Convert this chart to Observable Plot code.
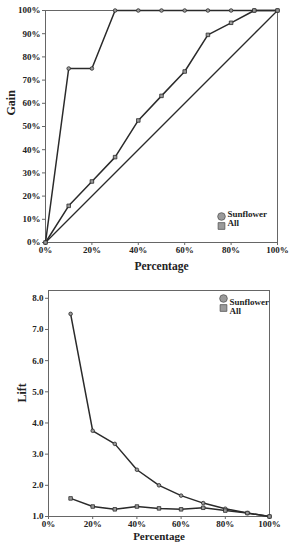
<!DOCTYPE html>
<html><head><meta charset="utf-8">
<script src="https://cdn.jsdelivr.net/npm/d3@7"></script>
<script src="https://cdn.jsdelivr.net/npm/@observablehq/plot@0.6"></script>
<style>
body{margin:0;background:#fff;width:293px;height:550px;overflow:hidden}
svg{display:block}
</style></head><body><div id="c"></div>
<script>
const gainPct = [0,10,20,30,40,50,60,70,80,90,100];
const gainSunflower = [0,75,75,100,100,100,100,100,100,100,100];
const gainAll = [0,15.8,26.3,36.8,52.6,63.2,73.7,89.5,94.7,100,100];
const diagPct = [0,100];
const diagGain = [0,100];
const liftPct = [10,20,30,40,50,60,70,80,90,100];
const liftSunflower = [7.5,3.75,3.33,2.5,2.0,1.67,1.43,1.25,1.11,1.0];
const liftAll = [1.58,1.32,1.23,1.32,1.26,1.23,1.28,1.19,1.11,1.0];
const seriesNames = ["Sunflower","All"];
const seriesSymbols = ["circle","square"];
const pctTicks = [0,20,40,60,80,100];
const gainTicks = [0,10,20,30,40,50,60,70,80,90,100];
const liftTicks = [1,2,3,4,5,6,7,8];

const font = "'Liberation Serif','DejaVu Serif',serif";
const lineColor = "#2a2a2a";
const markFill = "#9a9a9a";
const legend = seriesNames.map((n,i)=>({name:n, symbol:seriesSymbols[i]}));

const gainRows = s => gainPct.map((p,i)=>({p, v: s[i]}));
const liftRows = s => liftPct.map((p,i)=>({p, v: s[i]}));

function build(){
  const legendMarks = (anchor, dxDot, dxText, dy0) => [
    Plot.dot([legend[0]], {frameAnchor: anchor, dx: dxDot, dy: dy0, symbol: "symbol", r: 3.8, fill: markFill, stroke: "#555", strokeWidth: 0.8}),
    Plot.dot([legend[1]], {frameAnchor: anchor, dx: dxDot, dy: dy0 + 9.5, symbol: "symbol", r: 3.8, fill: markFill, stroke: "#555", strokeWidth: 0.8}),
    Plot.text([legend[0]], {frameAnchor: anchor, dx: dxText, dy: dy0, text: "name", textAnchor: "start", fontSize: 9, fontWeight: "bold", fill: "#222"}),
    Plot.text([legend[1]], {frameAnchor: anchor, dx: dxText, dy: dy0 + 9.5, text: "name", textAnchor: "start", fontSize: 9, fontWeight: "bold", fill: "#222"})
  ];
  const style = {fontFamily: font, fontWeight: "bold", fontSize: "9px", color: "#222", background: "#fff", overflow: "visible"};

  const g = Plot.plot({
    width: 293, height: 280,
    marginLeft: 45, marginRight: 16, marginTop: 10, marginBottom: 38,
    style,
    x: {domain: [0,100], label: null},
    y: {domain: [0,100], label: null},
    marks: [
      Plot.axisX({ticks: pctTicks, tickFormat: d => d + "%", tickSize: 3, tickPadding: 1, stroke: "#666"}),
      Plot.axisY({ticks: gainTicks, tickFormat: d => d + "%", tickSize: 3, tickPadding: 2, stroke: "#666"}),
      Plot.frame({stroke: "#666"}),
      Plot.line(diagPct.map((p,i)=>({p, v: diagGain[i]})), {x: "p", y: "v", stroke: lineColor, strokeWidth: 1.3}),
      Plot.line(gainRows(gainSunflower), {x: "p", y: "v", stroke: lineColor, strokeWidth: 1.5}),
      Plot.line(gainRows(gainAll), {x: "p", y: "v", stroke: lineColor, strokeWidth: 1.5}),
      Plot.dot(gainRows(gainSunflower), {x: "p", y: "v", symbol: "circle", r: 1.8, fill: markFill, stroke: lineColor, strokeWidth: 0.8}),
      Plot.dot(gainRows(gainAll), {x: "p", y: "v", symbol: "square", r: 2, fill: markFill, stroke: lineColor, strokeWidth: 0.8}),
      ...legendMarks("bottom-right", -56, -50, -26),
      Plot.text(["Gain"], {frameAnchor: "left", dx: -34, dy: -11, rotate: -90, text: d => d, fontSize: 12, fontWeight: "bold", fill: "#222"}),
      Plot.text(["Percentage"], {frameAnchor: "bottom", dy: 27, text: d => d, fontSize: 11.5, fontWeight: "bold", fill: "#222"})
    ]
  });

  const l = Plot.plot({
    width: 293, height: 270,
    marginLeft: 48, marginRight: 24, marginTop: 10, marginBottom: 34,
    style,
    x: {domain: [0,100], label: null},
    y: {domain: [1,8.25], label: null},
    marks: [
      Plot.axisX({ticks: pctTicks, tickFormat: d => d + "%", tickSize: 3, tickPadding: 1, stroke: "#666"}),
      Plot.axisY({ticks: liftTicks, tickFormat: d => d.toFixed(1), tickSize: 3, tickPadding: 2, stroke: "#666"}),
      Plot.frame({stroke: "#666"}),
      Plot.line(liftRows(liftSunflower), {x: "p", y: "v", stroke: lineColor, strokeWidth: 1.5}),
      Plot.line(liftRows(liftAll), {x: "p", y: "v", stroke: lineColor, strokeWidth: 1.5}),
      Plot.dot(liftRows(liftSunflower), {x: "p", y: "v", symbol: "circle", r: 1.8, fill: markFill, stroke: lineColor, strokeWidth: 0.8}),
      Plot.dot(liftRows(liftAll), {x: "p", y: "v", symbol: "square", r: 2, fill: markFill, stroke: lineColor, strokeWidth: 0.8}),
      ...legendMarks("top-right", -46, -40, 8),
      Plot.text(["Lift"], {frameAnchor: "left", dx: -26, dy: -1, rotate: -90, text: d => d, fontSize: 12, fontWeight: "bold", fill: "#222"}),
      Plot.text(["Percentage"], {frameAnchor: "bottom", dy: 23, text: d => d, fontSize: 11, fontWeight: "bold", fill: "#222"})
    ]
  });
  const c = document.getElementById("c");
  c.appendChild(g);
  c.appendChild(l);
}
build();
</script></body></html>
